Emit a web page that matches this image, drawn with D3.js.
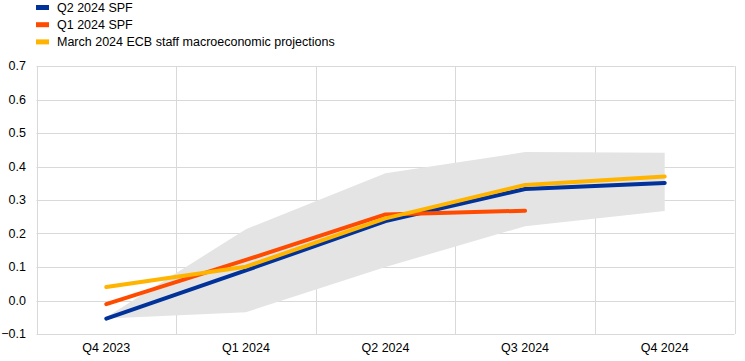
<!DOCTYPE html>
<html><head><meta charset="utf-8">
<script src="https://cdn.jsdelivr.net/npm/d3@7/dist/d3.min.js"></script>
<style>body{margin:0;background:#fff;} svg{display:block;font-family:"Liberation Sans",Arial,sans-serif;}</style>
</head><body><svg id="c" width="745" height="361"></svg>
<script>
const categories = ["Q4 2023","Q1 2024","Q2 2024","Q3 2024","Q4 2024"];
const q2SPF   = [-0.054, 0.09, 0.237, 0.333, 0.351];
const q1SPF   = [-0.011, 0.121, 0.257, 0.268, null];
const ecbMar  = [0.040, 0.101, 0.245, 0.345, 0.370];
const bandUpper = [-0.05, 0.213, 0.38, 0.443, 0.441];
const bandLower = [-0.054, -0.035, 0.10, 0.222, 0.267];
const yTicks = [-0.1,0,0.1,0.2,0.3,0.4,0.5,0.6,0.7];
const seriesNames = ["Q2 2024 SPF","Q1 2024 SPF","March 2024 ECB staff macroeconomic projections"];
const colors = ["#003299","#ff4b00","#ffb400"];

const svg = d3.select("#c");
const L=36.5, R=734.5, T=66, B=334;
const x = d3.scaleBand().domain(categories).range([L,R]);
const y = d3.scaleLinear().domain([-0.1,0.7]).range([B,T]);
const cx = c => x(c)+x.bandwidth()/2;

// grid
const g = svg.append("g");
g.selectAll("line.h").data(yTicks).enter().append("line")
  .attr("x1",L).attr("x2",R).attr("y1",d=>Math.round(y(d))+0.5).attr("y2",d=>Math.round(y(d))+0.5)
  .attr("stroke","#d9d9d9").attr("stroke-width",1);
const vb = categories.map(c=>x(c)).concat([R]);
g.selectAll("line.v").data(vb).enter().append("line")
  .attr("x1",d=>Math.round(d)+0.5).attr("x2",d=>Math.round(d)+0.5).attr("y1",T).attr("y2",B)
  .attr("stroke","#d9d9d9").attr("stroke-width",1);

// band
const bandData = categories.map((c,i)=>({c,u:bandUpper[i],l:bandLower[i]}));
svg.append("path").datum(bandData)
  .attr("d", d3.area().x(d=>cx(d.c)).y0(d=>y(d.l)).y1(d=>y(d.u)))
  .attr("fill","#e4e4e4");

// lines
const all = [q2SPF,q1SPF,ecbMar];
const line = d3.line().defined(d=>d.v!=null).x(d=>cx(d.c)).y(d=>y(d.v));
[2,1,0].forEach(()=>{});
[q2SPF,q1SPF,ecbMar].forEach((s,i)=>{
  svg.append("path").datum(categories.map((c,j)=>({c,v:s[j]})))
    .attr("d",line).attr("fill","none").attr("stroke",colors[i])
    .attr("stroke-width",4).attr("stroke-linecap","round").attr("stroke-linejoin","round");
});

// y axis labels
svg.append("g").selectAll("text").data(yTicks).enter().append("text")
  .attr("x",26).attr("y",d=>y(d)).attr("dy","0.35em").attr("text-anchor","end")
  .attr("font-size",12.5).attr("fill","#000").text(d=>d3.format(".1f")(d));

// x axis labels
svg.append("g").selectAll("text").data(categories).enter().append("text")
  .attr("x",d=>cx(d)).attr("y",352).attr("text-anchor","middle")
  .attr("font-size",12.5).attr("fill","#000").text(d=>d);

// legend
const lg = svg.append("g");
seriesNames.forEach((n,i)=>{
  const yy = 7.5 + i*17.2;
  lg.append("rect").attr("x",36).attr("y",yy-2.5).attr("width",13).attr("height",5).attr("fill",colors[i]);
  lg.append("text").attr("x",57).attr("y",yy).attr("dy","0.35em").attr("font-size",12.5).attr("fill","#000").text(n);
});
</script></body></html>
